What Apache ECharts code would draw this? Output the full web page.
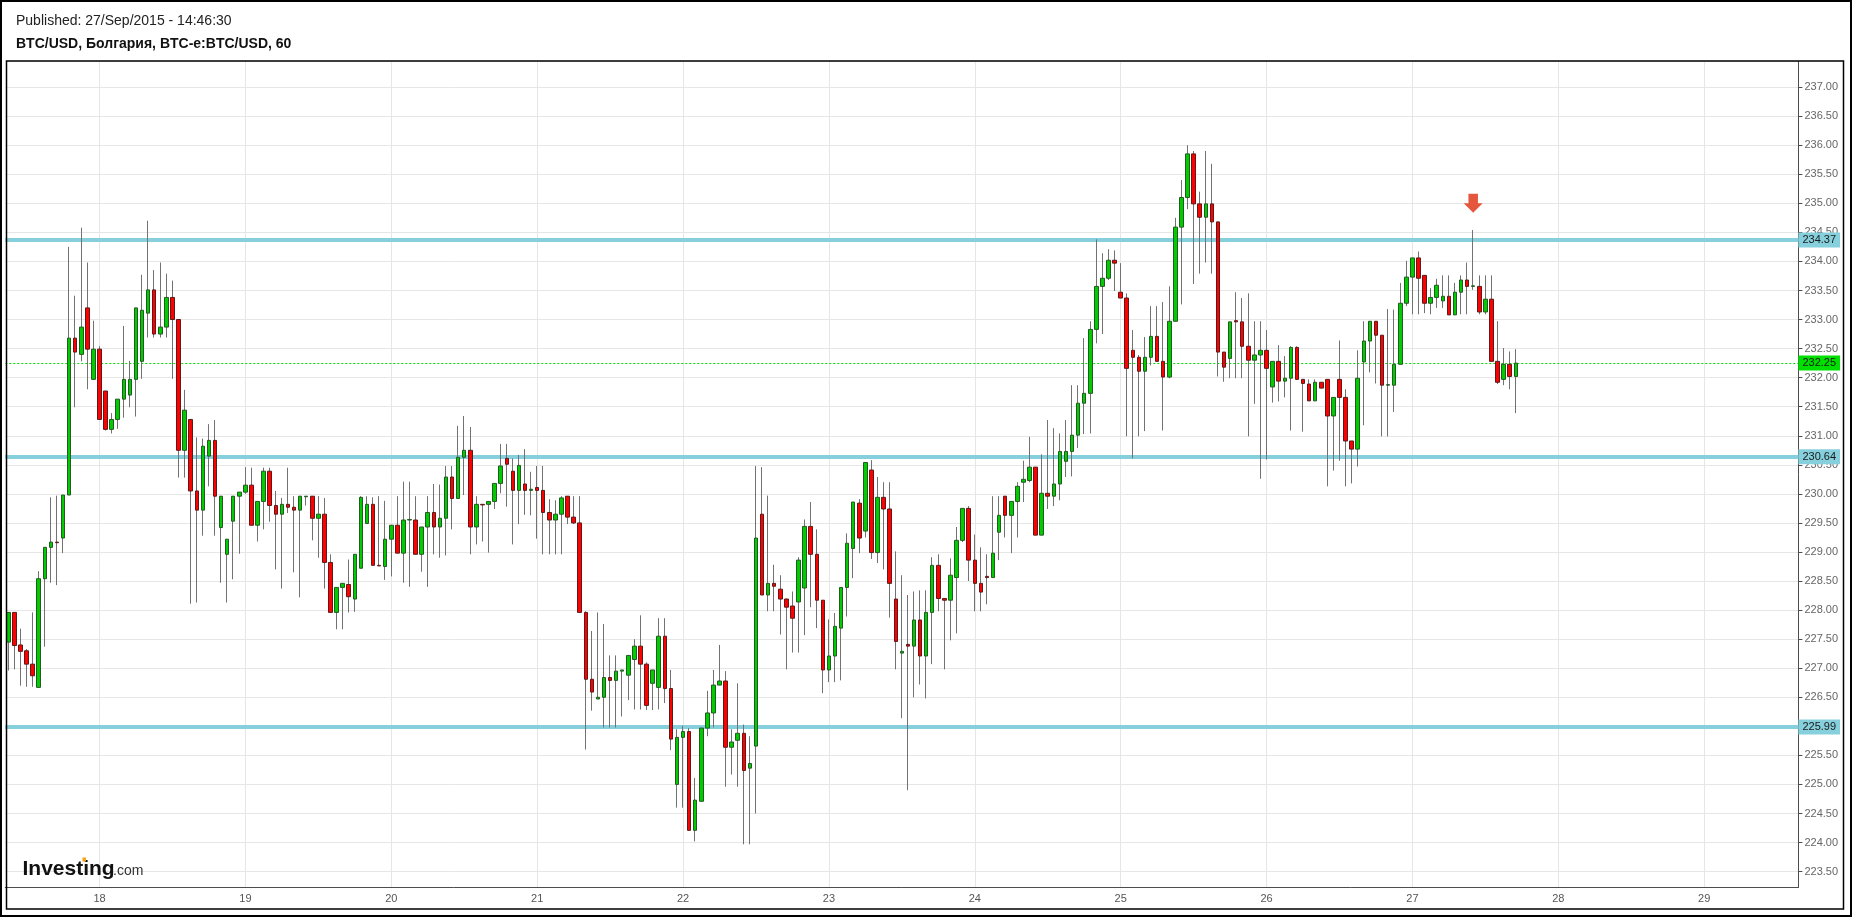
<!DOCTYPE html>
<html>
<head>
<meta charset="utf-8">
<title>BTC/USD 60</title>
<script src="https://cdn.jsdelivr.net/npm/echarts@6/dist/echarts.min.js"></script>
<style>
  html, body { margin: 0; padding: 0; background: #fff; }
  #chart { width: 1852px; height: 917px; }
</style>
</head>
<body>
<div id="chart"></div>
<script>
// hourly bars from 17 Sep 2015 09:00, each row is [open, close, low, high]
const ohlc = [
  [227.45, 227.96, 226.96, 227.96], [227.96, 227.39, 226.98, 227.96], [227.40, 227.29, 226.70, 227.68],
  [227.30, 227.07, 226.68, 227.33], [227.07, 226.87, 226.68, 227.96], [226.67, 228.54, 226.67, 228.67],
  [228.54, 229.08, 227.37, 229.08], [229.08, 229.17, 228.47, 229.94], [229.17, 229.16, 228.43, 229.97],
  [229.24, 229.98, 228.98, 229.98], [229.98, 232.68, 229.98, 234.25], [232.68, 232.44, 231.49, 233.41],
  [232.40, 232.87, 232.28, 234.58], [233.20, 232.49, 231.80, 233.98], [231.97, 232.49, 231.97, 232.98],
  [232.49, 231.28, 231.28, 232.54], [231.77, 231.11, 231.09, 231.77], [231.11, 231.28, 231.04, 231.39],
  [231.28, 231.63, 231.12, 231.63], [231.63, 231.97, 231.31, 232.89], [231.70, 231.97, 231.49, 232.29],
  [231.97, 233.20, 231.33, 233.20], [232.28, 233.16, 231.98, 233.77], [233.11, 233.51, 232.69, 234.70],
  [233.51, 232.75, 232.69, 233.85], [232.75, 232.87, 232.69, 233.98], [232.87, 233.38, 232.69, 233.79],
  [233.38, 233.00, 231.98, 233.67], [233.00, 230.75, 230.28, 233.00], [230.75, 231.44, 230.28, 231.79],
  [231.28, 230.05, 228.11, 231.28], [230.05, 229.72, 228.13, 230.97], [229.72, 230.82, 229.28, 230.95],
  [230.65, 230.92, 230.13, 231.20], [230.92, 229.96, 229.28, 231.27], [229.42, 229.96, 228.47, 229.96],
  [228.96, 229.22, 228.13, 229.22], [229.53, 229.96, 228.53, 229.96], [229.96, 230.03, 228.97, 230.03],
  [230.03, 230.15, 230.00, 230.46], [230.15, 229.46, 229.46, 230.45], [229.46, 229.87, 229.18, 229.87],
  [229.87, 230.39, 229.39, 230.45], [230.39, 229.80, 229.52, 230.45], [229.80, 229.65, 228.70, 230.05],
  [229.65, 229.82, 228.37, 229.93], [229.82, 229.77, 229.67, 230.45], [229.77, 229.72, 228.65, 229.96],
  [229.72, 229.96, 228.22, 229.96], [229.95, 229.96, 229.80, 229.96], [229.96, 229.58, 229.20, 229.96],
  [229.58, 229.65, 228.90, 229.96], [229.65, 228.82, 228.37, 229.93], [228.82, 227.96, 227.96, 228.96],
  [227.96, 228.39, 227.67, 228.39], [228.39, 228.46, 227.67, 228.46], [228.44, 228.23, 227.96, 228.87],
  [228.19, 228.96, 227.97, 228.96], [228.72, 229.94, 228.72, 229.96], [229.49, 229.82, 229.49, 229.96],
  [229.82, 228.77, 228.77, 229.94], [228.77, 228.76, 228.76, 229.96], [228.75, 229.22, 228.52, 229.88],
  [229.22, 229.46, 228.58, 229.46], [229.46, 228.98, 228.98, 229.96], [228.98, 229.55, 228.47, 230.21],
  [229.55, 229.56, 228.40, 230.21], [229.55, 228.96, 228.96, 229.96], [228.96, 229.43, 228.66, 229.43],
  [229.43, 229.68, 228.40, 229.96], [229.68, 229.43, 228.96, 230.17], [229.43, 229.58, 228.90, 230.16],
  [229.58, 230.29, 228.94, 230.48], [230.29, 229.92, 229.39, 230.48], [229.92, 230.63, 229.92, 231.17],
  [230.63, 230.75, 229.98, 231.34], [230.75, 229.43, 228.96, 231.15], [229.43, 229.82, 229.13, 229.96],
  [229.82, 229.81, 229.18, 229.82], [229.82, 229.87, 228.99, 229.87], [229.87, 230.18, 229.74, 230.18],
  [230.18, 230.48, 230.01, 230.86], [230.61, 230.51, 229.78, 230.86], [230.39, 230.06, 229.13, 230.61],
  [230.06, 230.49, 229.48, 230.67], [230.17, 230.06, 229.64, 230.77], [230.06, 230.08, 229.63, 230.38],
  [230.11, 230.06, 229.23, 230.48], [230.06, 229.68, 228.96, 230.48], [229.68, 229.55, 228.96, 229.91],
  [229.55, 229.65, 228.96, 229.89], [229.65, 229.93, 228.96, 229.96], [229.96, 229.60, 229.48, 229.96],
  [229.60, 229.50, 229.48, 229.96], [229.50, 227.96, 227.96, 229.96], [227.96, 226.81, 225.60, 227.98],
  [226.81, 226.59, 226.27, 227.64], [226.47, 226.50, 226.47, 227.96], [226.50, 226.84, 225.98, 227.76],
  [226.84, 226.79, 225.98, 227.22], [226.79, 226.95, 225.98, 227.22], [226.95, 226.97, 226.17, 226.97],
  [226.88, 227.22, 226.45, 227.22], [227.15, 227.38, 226.29, 227.50], [227.38, 227.07, 226.29, 227.91],
  [227.07, 226.36, 226.28, 227.10], [226.74, 226.97, 226.28, 226.97], [226.67, 227.55, 226.29, 227.86],
  [227.55, 226.65, 226.40, 227.86], [226.65, 225.78, 225.59, 226.97], [225.00, 225.81, 224.60, 225.95],
  [225.81, 225.91, 224.60, 226.01], [225.91, 224.21, 224.21, 225.97], [224.21, 224.73, 224.02, 225.11],
  [224.71, 225.97, 224.71, 225.97], [225.97, 226.23, 225.83, 226.61], [226.23, 226.71, 225.98, 226.97],
  [226.71, 226.78, 226.71, 227.40], [226.78, 225.64, 224.96, 226.95], [225.64, 225.73, 225.17, 225.95],
  [225.76, 225.88, 224.96, 226.74], [225.88, 225.24, 223.97, 226.03], [225.28, 225.36, 223.97, 225.83],
  [225.66, 229.24, 224.50, 230.48], [229.65, 228.26, 228.26, 230.46], [228.26, 228.46, 227.98, 229.97],
  [228.46, 228.41, 227.98, 228.78], [228.36, 228.19, 227.58, 228.60], [228.19, 228.05, 226.98, 228.20],
  [228.07, 227.86, 227.27, 228.32], [228.14, 228.86, 227.27, 228.91], [228.38, 229.44, 227.57, 229.56],
  [229.44, 228.96, 228.05, 229.86], [228.96, 228.17, 227.69, 229.39], [228.17, 226.97, 226.57, 228.17],
  [226.97, 227.21, 226.76, 227.84], [227.21, 227.72, 226.76, 227.95], [227.69, 228.39, 226.79, 228.39],
  [228.39, 229.15, 227.89, 229.32], [229.06, 229.86, 228.55, 229.86], [229.84, 229.24, 228.98, 229.91],
  [229.36, 230.54, 229.25, 230.54], [230.41, 228.99, 228.88, 230.58], [228.99, 229.94, 228.81, 230.29],
  [229.94, 229.74, 228.70, 230.20], [229.74, 228.46, 227.87, 230.20], [228.19, 227.46, 226.98, 229.01],
  [227.26, 227.29, 226.14, 228.60], [227.41, 227.38, 224.90, 228.26], [227.38, 227.83, 226.50, 228.32],
  [227.83, 227.21, 226.72, 228.34], [227.21, 227.96, 226.48, 228.34], [227.96, 228.77, 227.07, 228.91],
  [228.77, 228.20, 227.98, 228.96], [228.20, 228.17, 226.98, 228.20], [228.17, 228.60, 227.48, 228.89],
  [228.56, 229.20, 227.60, 229.43], [229.20, 229.75, 229.17, 229.75], [229.75, 228.86, 228.50, 229.79],
  [228.86, 228.46, 227.98, 229.30], [228.46, 228.31, 227.98, 229.08], [228.58, 228.56, 228.10, 228.96],
  [228.56, 228.98, 228.56, 229.96], [229.34, 229.63, 228.86, 229.96], [229.96, 229.63, 229.25, 229.96],
  [229.63, 229.87, 228.98, 229.87], [229.87, 230.13, 229.25, 230.20], [230.20, 230.25, 229.86, 230.57],
  [230.23, 230.46, 230.20, 230.98], [230.46, 229.29, 229.29, 230.46], [229.29, 230.01, 229.29, 230.68],
  [230.01, 229.96, 229.74, 231.27], [229.96, 230.17, 229.79, 231.13], [230.17, 230.73, 229.89, 231.04],
  [230.56, 230.73, 230.29, 231.27], [230.73, 231.01, 230.30, 231.87], [231.01, 231.56, 230.79, 231.87],
  [231.56, 231.73, 231.03, 232.68], [231.73, 232.83, 231.04, 232.97], [232.83, 233.57, 232.59, 234.38],
  [233.57, 233.71, 232.75, 234.14], [233.71, 234.02, 233.68, 234.21], [234.02, 233.97, 233.49, 234.19],
  [233.47, 233.37, 233.37, 233.97], [233.37, 232.16, 230.99, 233.45], [232.47, 232.35, 230.61, 232.82],
  [232.35, 232.11, 230.99, 232.39], [232.11, 232.35, 231.08, 232.70], [232.35, 232.71, 232.21, 233.23],
  [232.71, 232.28, 232.28, 233.23], [232.28, 232.01, 231.09, 233.30], [232.01, 232.97, 231.99, 233.57],
  [232.97, 234.59, 232.97, 234.75], [234.59, 235.10, 233.26, 235.40], [235.10, 235.85, 234.90, 236.00],
  [235.85, 234.99, 233.61, 235.90], [234.99, 234.76, 233.79, 235.20], [234.76, 234.99, 233.98, 235.90],
  [234.99, 234.68, 233.79, 235.68], [234.68, 232.44, 232.02, 234.68], [232.44, 232.18, 231.93, 232.44],
  [232.33, 232.96, 231.99, 232.96], [232.98, 232.96, 231.99, 233.47], [232.96, 232.54, 231.99, 233.37],
  [232.54, 232.30, 230.99, 233.45], [232.30, 232.39, 231.55, 232.97], [232.39, 232.47, 230.26, 232.97],
  [232.47, 232.16, 230.59, 232.82], [231.84, 232.28, 231.57, 232.28], [232.28, 231.94, 231.59, 232.56],
  [231.94, 231.99, 231.66, 232.37], [231.99, 232.52, 231.09, 232.54], [232.52, 231.97, 231.96, 232.54],
  [231.97, 231.90, 231.07, 231.97], [231.89, 231.60, 231.60, 231.97], [231.60, 231.92, 231.60, 231.97],
  [231.92, 231.82, 231.82, 231.92], [231.97, 231.34, 230.13, 231.97], [231.34, 231.66, 230.40, 231.66],
  [231.97, 231.66, 230.57, 232.64], [231.66, 230.91, 230.13, 231.80], [230.91, 230.77, 230.18, 230.91],
  [230.77, 231.99, 230.47, 232.47], [232.27, 232.63, 231.18, 232.97], [232.63, 232.97, 232.09, 232.97],
  [232.97, 232.73, 231.90, 232.97], [232.73, 231.87, 230.99, 232.73], [231.87, 231.88, 230.99, 233.18],
  [231.87, 232.23, 231.41, 233.17], [232.23, 233.28, 232.23, 233.63], [233.28, 233.73, 233.23, 234.01],
  [233.73, 234.06, 233.09, 234.06], [234.06, 233.71, 233.09, 234.17], [233.76, 233.28, 233.11, 233.76],
  [233.28, 233.38, 233.09, 233.54], [233.38, 233.59, 233.20, 233.70], [233.32, 233.40, 233.20, 233.76],
  [233.40, 233.08, 233.08, 233.76], [233.08, 233.47, 233.08, 233.63], [233.47, 233.68, 233.09, 233.76],
  [233.68, 233.57, 233.09, 233.98], [233.57, 233.58, 233.51, 234.54], [233.57, 233.13, 233.09, 233.76],
  [233.13, 233.35, 233.09, 233.76], [233.35, 232.28, 232.28, 233.76], [232.28, 231.92, 231.89, 232.97],
  [231.97, 232.23, 231.87, 232.51], [232.23, 232.02, 231.80, 232.45], [232.02, 232.25, 231.39, 232.49]
];

const firstBarUtc = Date.UTC(2015, 8, 17, 9);   // first hourly slot on the axis
const slotCount = 295;                          // hourly slots up to the right edge
const levels = [234.37, 230.64, 225.99];         // drawn support / resistance
const lastPrice = 232.25;
const signalBar = 241;                          // bar index under the red arrow
const signalPrice = 235.0;

const categories = [];
for (let i = 0; i < slotCount; i++) {
  const d = new Date(firstBarUtc + i * 3600000);
  const hh = String(d.getUTCHours()).padStart(2, '0');
  categories.push(`2015-09-${String(d.getUTCDate()).padStart(2, '0')} ${hh}:00`);
}
const isMidnight = (idx, val) => val.endsWith(' 00:00');

const chart = echarts.init(document.getElementById('chart'));

const cyan = '#86cfdc';
const font = 'Arial, "Liberation Sans", sans-serif';

chart.setOption({
  animation: false,
  grid: { left: 5.3, right: 53.6, top: 61.5, bottom: 29.7, outerBoundsMode: 'none' },
  xAxis: {
    type: 'category',
    data: categories,
    boundaryGap: true,
    axisLine: { lineStyle: { color: '#4d4d4d', width: 1 } },
    axisTick: { alignWithLabel: true, interval: isMidnight, length: 4, lineStyle: { color: '#4d4d4d' } },
    axisLabel: {
      interval: isMidnight, color: '#555', fontSize: 11, fontFamily: font, margin: 6,
      formatter: v => String(Number(v.slice(8, 10)))
    },
    splitLine: { show: true, interval: isMidnight, alignWithLabel: true, lineStyle: { color: '#e6e6e6' } }
  },
  yAxis: {
    type: 'value',
    position: 'right',
    min: 223.23,
    max: 237.44,
    minInterval: 0.5,
    maxInterval: 0.5,
    splitNumber: 28,
    axisLine: { show: true, lineStyle: { color: '#4d4d4d' } },
    axisTick: { show: true, length: 4, lineStyle: { color: '#4d4d4d' } },
    axisLabel: {
      color: '#666', fontSize: 11, fontFamily: font, margin: 6,
      showMinLabel: false, showMaxLabel: false,
      formatter: v => v.toFixed(2)
    },
    splitLine: { lineStyle: { color: '#e6e6e6' } }
  },
  series: [
    {
      // wicks: a thin body from low to high
      name: 'wick',
      type: 'candlestick',
      data: ohlc.map(r => [r[2], r[3], r[2], r[3]]),
      barWidth: 1,
      silent: true,
      z: 2,
      itemStyle: { color: '#727272', color0: '#727272', borderColor: '#727272', borderColor0: '#727272', borderWidth: 1 },
      markLine: {
        silent: true,
        symbol: 'none',
        z: 1,
        animation: false,
        label: { show: true, position: 'end', distance: 0, fontSize: 11, fontFamily: font, color: '#1a1a1a', padding: [2, 4] },
        data: [
          ...levels.map(v => ({
            yAxis: v,
            lineStyle: { color: cyan, width: 4, type: 'solid' },
            label: { formatter: v.toFixed(2), backgroundColor: cyan }
          })),
          {
            yAxis: lastPrice,
            lineStyle: { color: '#00d800', width: 1, type: [2, 2] },
            label: { formatter: lastPrice.toFixed(2), backgroundColor: '#00e000' }
          }
        ]
      }
    },
    {
      name: 'BTC/USD',
      type: 'candlestick',
      data: ohlc.map(r => [r[0], r[1], Math.min(r[0], r[1]), Math.max(r[0], r[1])]),
      barWidth: 4,
      z: 3,
      itemStyle: {
        color: '#00cc00', color0: '#ff0000',
        borderColor: '#245a24', borderColor0: '#5c1a1a', borderWidth: 1
      },
      markPoint: {
        silent: true,
        symbol: 'path://M4,0 L12,0 L12,8 L16,8 L8,16 L0,8 L4,8 Z',
        symbolSize: [19, 19],
        label: { show: false },
        itemStyle: { color: '#e4573d' },
        data: [{ coord: [categories[signalBar], signalPrice] }]
      }
    }
  ],
  graphic: [
    { type: 'rect', silent: true, z: 100, shape: { x: 1, y: 1, width: 1850, height: 915 },
      style: { fill: null, stroke: '#000', lineWidth: 2 } },
    { type: 'rect', silent: true, z: 100, shape: { x: 6.5, y: 61, width: 1837, height: 848 },
      style: { fill: null, stroke: '#000', lineWidth: 1.5 } },
    { type: 'text', x: 16, y: 21, z: 100,
      style: { text: 'Published: 27/Sep/2015 - 14:46:30', font: '14px ' + font, fill: '#222', verticalAlign: 'middle' } },
    { type: 'text', x: 16, y: 44, z: 100,
      style: { text: 'BTC/USD, Болгария, BTC-e:BTC/USD, 60', font: 'bold 14px ' + font, fill: '#111', verticalAlign: 'middle' } },
    { type: 'text', x: 22.5, y: 869, z: 100,
      style: { text: 'Investing', font: 'bold 21px ' + font, fill: '#111', verticalAlign: 'middle' } },
    { type: 'text', x: 113, y: 871.5, z: 100,
      style: { text: '.com', font: '14px ' + font, fill: '#333', verticalAlign: 'middle' } },
    { type: 'rect', silent: true, z: 101, shape: { x: 82.5, y: 857.5, width: 3.5, height: 4 },
      style: { fill: '#f7a21b' } }
  ]
});
</script>
</body>
</html>
